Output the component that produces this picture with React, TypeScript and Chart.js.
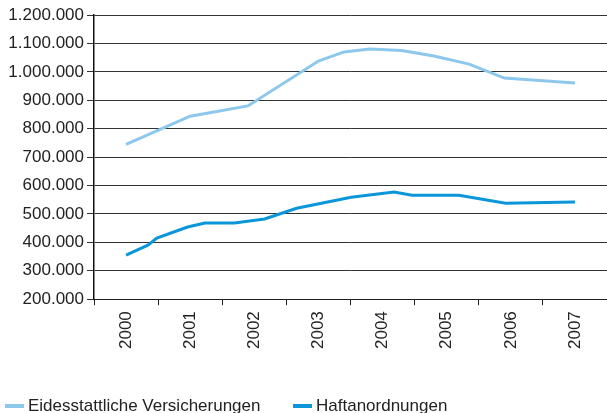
import React, { useEffect, useRef } from "react";
import { Chart, registerables } from "chart.js";

Chart.register(...registerables);

const years = ["2000", "2001", "2002", "2003", "2004", "2005", "2006", "2007"];

const eidesPos = [2000.0, 2001.0, 2001.9, 2003.0, 2003.4, 2003.8, 2004.3, 2004.8, 2005.35, 2005.9, 2007.0];
const eidesValues = [745000, 844000, 880000, 1038000, 1070000, 1080000, 1075000, 1056000, 1027000, 978000, 961000];

const haftPos = [2000.0, 2000.34, 2000.48, 2000.96, 2001.23, 2001.69, 2002.16, 2002.66, 2003.51, 2004.18, 2004.46, 2005.19, 2005.92, 2007.0];
const haftValues = [355000, 390000, 415000, 454000, 468000, 468000, 482000, 520000, 559000, 577000, 566000, 566000, 538000, 542000];

const seriesNames = ["Eidesstattliche Versicherungen", "Haftanordnungen"];
const seriesColors = ["#8cc8ec", "#0a96d8"];

const FONT = "'Liberation Sans', Arial, Helvetica, sans-serif";

function fmt(v: number): string {
  return String(Math.round(v)).replace(/\B(?=(\d{3})+(?!\d))/g, ".");
}

export default function App() {
  const ref = useRef<HTMLCanvasElement | null>(null);

  useEffect(() => {
    if (!ref.current) return;
    const chart = new Chart(ref.current, {
      type: "line",
      data: {
        labels: years,
        datasets: [
          {
            label: seriesNames[0],
            data: eidesPos.map((x, i) => ({ x, y: eidesValues[i] })),
            borderColor: seriesColors[0],
            backgroundColor: seriesColors[0],
            borderWidth: 3,
            pointRadius: 0,
            tension: 0,
            xAxisID: "xl",
          },
          {
            label: seriesNames[1],
            data: haftPos.map((x, i) => ({ x, y: haftValues[i] })),
            borderColor: seriesColors[1],
            backgroundColor: seriesColors[1],
            borderWidth: 3,
            pointRadius: 0,
            tension: 0,
            xAxisID: "xl",
          },
        ],
      },
      options: {
        animation: false,
        responsive: false,
        maintainAspectRatio: false,
        layout: { padding: { left: 6, top: 15, right: 0, bottom: 58 } },
        plugins: { legend: { display: false }, tooltip: { enabled: false } },
        scales: {
          x: {
            type: "category",
            labels: years,
            offset: true,
            border: { display: true, color: "#222", width: 1 },
            grid: {
              offset: true,
              drawOnChartArea: false,
              drawTicks: true,
              tickLength: 6,
              color: "#222",
            },
            ticks: {
              minRotation: 90,
              maxRotation: 90,
              padding: 6,
              color: "#222",
              font: { family: FONT, size: 17 },
            },
          },
          xl: {
            type: "linear",
            display: false,
            min: 1999.5,
            max: 2007.5,
          },
          y: {
            type: "linear",
            min: 200000,
            max: 1200000,
            border: { display: true, color: "#111", width: 1.5 },
            grid: { color: "#333", lineWidth: 1, tickLength: 7 },
            ticks: {
              stepSize: 100000,
              padding: 3,
              color: "#222",
              font: { family: FONT, size: 17 },
              callback: (v: any) => fmt(Number(v)),
            },
            afterFit: (scale: any) => {
              scale.width = 88;
            },
          },
        },
      },
    });
    return () => chart.destroy();
  }, []);

  const itemStyle: React.CSSProperties = {
    position: "absolute",
    top: 396,
    display: "flex",
    alignItems: "center",
    fontFamily: FONT,
    fontSize: 17,
    color: "#222",
    whiteSpace: "nowrap",
    lineHeight: "20px",
  };
  const swatch = (c: string): React.CSSProperties => ({
    display: "inline-block",
    width: 19,
    height: 4,
    background: c,
    marginRight: 4,
  });

  return (
    <div style={{ position: "fixed", left: 0, top: 0, width: 607, height: 413, background: "#fff", overflow: "hidden" }}>
      <canvas ref={ref} width={607} height={413} style={{ position: "absolute", left: 0, top: 0 }} />
      <div style={{ ...itemStyle, left: 5 }}>
        <span style={swatch(seriesColors[0])} />
        <span>{seriesNames[0]}</span>
      </div>
      <div style={{ ...itemStyle, left: 293 }}>
        <span style={swatch(seriesColors[1])} />
        <span>{seriesNames[1]}</span>
      </div>
    </div>
  );
}
